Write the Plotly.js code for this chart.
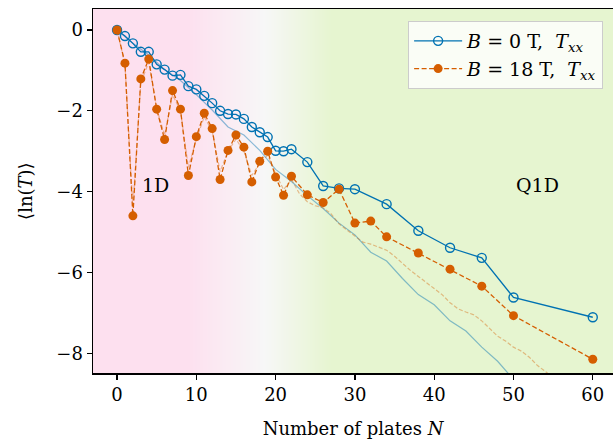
<!DOCTYPE html>
<html>
<head>
<meta charset="utf-8">
<script src="https://cdn.plot.ly/plotly-3.0.1.min.js"></script>
<style>html,body{margin:0;padding:0;background:#fff;}#chart{width:613px;height:443px;}</style>
</head>
<body>
<div id="chart"></div>
<script>
// B = 0 T, T_xx
const nB0 = [0,1,2,3,4,5,6,7,8,9,10,11,12,13,14,15,16,17,18,19,20,21,22,24,26,28,30,34,38,42,46,50,60];
const lnB0 = [0,-0.15,-0.33,-0.54,-0.54,-0.85,-0.98,-1.13,-1.11,-1.39,-1.47,-1.63,-1.81,-2.0,-2.08,-2.09,-2.2,-2.4,-2.53,-2.65,-2.99,-3.0,-2.95,-3.27,-3.86,-3.92,-3.94,-4.31,-4.97,-5.39,-5.64,-6.62,-7.11];
// B = 18 T, T_xx
const nB18 = [0,1,2,3,4,5,6,7,8,9,10,11,12,13,14,15,16,17,18,19,20,21,22,24,26,28,30,32,34,38,42,46,50,60];
const lnB18 = [0,-0.82,-4.6,-1.21,-0.72,-1.96,-2.71,-1.50,-1.96,-3.6,-2.64,-2.06,-2.44,-3.70,-2.98,-2.6,-2.90,-3.76,-3.25,-3.0,-3.64,-4.09,-3.62,-4.08,-4.27,-3.94,-4.78,-4.73,-5.12,-5.52,-5.92,-6.34,-7.07,-8.15];
// faint reference curves
const nRef0 = [0,2,4,6,8,10,12,14,16,18,20,22,24,26,28,30,32,34,36,38,40,42,44,46,48,50];
const lnRef0 = [0,-0.33,-0.62,-0.98,-1.25,-1.6,-1.98,-2.4,-2.6,-2.98,-3.45,-3.75,-4.1,-4.42,-4.78,-5.07,-5.5,-5.72,-6.15,-6.55,-6.8,-7.2,-7.45,-7.85,-8.2,-8.65];
const nRef18 = [0,1,2,3,4,5,6,7,8,9,10,11,12,13,14,15,16,17,18,19,20,21,22,23,24,25,26,27,28,29,30,31,32,33,34,35,36,37,38,39,40,41,42,43,44,45,46,47,48,49,50,51,52,53,54,55];
const lnRef18 = [0,-0.85,-4.4,-1.3,-0.8,-1.95,-2.6,-1.6,-2.0,-3.4,-2.7,-2.15,-2.5,-3.5,-3.0,-2.7,-3.0,-3.6,-3.3,-3.1,-3.55,-3.95,-3.7,-4.05,-4.25,-4.35,-4.4,-4.55,-4.8,-4.95,-5.1,-5.25,-5.3,-5.38,-5.45,-5.6,-5.78,-5.95,-6.1,-6.25,-6.38,-6.55,-6.75,-6.9,-6.98,-7.05,-7.2,-7.4,-7.58,-7.7,-7.85,-7.95,-8.1,-8.3,-8.45,-8.6];
// background gradient stops (1D -> Q1D)
const bgX = [-3, 9, 18.5, 27, 63];
const bgZ = [0, 0, 0.5, 1, 1];

const font = "DejaVu Serif, Liberation Serif, serif";

const traces = [
  {type:'heatmap', x:bgX, y:[-9,1], z:[bgZ,bgZ], zsmooth:'best', showscale:false, hoverinfo:'skip',
   colorscale:[[0,'#fde0ef'],[0.5,'#f7f7f7'],[1,'#e6f5d0']], zmin:0, zmax:1},
  {type:'scatter', mode:'lines', x:nRef0, y:lnRef0, showlegend:false,
   line:{color:'rgba(0,114,178,0.45)', width:1.2}},
  {type:'scatter', mode:'lines', x:nRef18, y:lnRef18, showlegend:false,
   line:{color:'rgba(213,94,0,0.4)', width:1.2, dash:'4px,2px'}},
  {type:'scatter', mode:'lines+markers', x:nB0, y:lnB0, name:'<i>B</i> = 0 T,  <i>T</i><sub><i>xx</i></sub>',
   line:{color:'#0072B2', width:1.3},
   marker:{symbol:'circle-open', size:9, color:'#0072B2', line:{width:1.4, color:'#0072B2'}}},
  {type:'scatter', mode:'lines+markers', x:nB18, y:lnB18, name:'<i>B</i> = 18 T,  <i>T</i><sub><i>xx</i></sub>',
   line:{color:'#D55E00', width:1.3, dash:'5px,2.5px'},
   marker:{symbol:'circle', size:9, color:'#D55E00'}}
];

const layout = {
  width:613, height:443,
  margin:{l:93, r:0, t:9, b:70},
  paper_bgcolor:'#ffffff', plot_bgcolor:'#ffffff',
  font:{family:font, size:18, color:'#000'},
  showlegend:true,
  legend:{x:0.981, y:0.967, xanchor:'right', yanchor:'top', bgcolor:'rgba(255,255,255,0.8)',
          bordercolor:'#cccccc', borderwidth:1, font:{family:font, size:19}, tracegroupgap:0,
          itemwidth:48},
  xaxis:{range:[-3.03,62.55], showgrid:false, zeroline:false, showline:true, linecolor:'#000', linewidth:1.5,
         mirror:true, ticks:'outside', ticklen:5, tickwidth:1.3, tickcolor:'#000',
         tickvals:[0,10,20,30,40,50,60], tickfont:{family:font, size:18},
         title:{text:'Number of plates <i>N</i>', font:{family:font, size:18}, standoff:18}},
  yaxis:{range:[-8.49,0.52], showgrid:false, zeroline:false, showline:true, linecolor:'#000', linewidth:1.5,
         mirror:false, ticks:'outside', ticklen:5, tickwidth:1.3, tickcolor:'#000',
         tickvals:[0,-2,-4,-6,-8], tickfont:{family:font, size:18}},
  annotations:[
    {x:-0.131, y:0.5, xref:'paper', yref:'paper', text:'⟨ln(<i>T</i>)⟩', textangle:-90, showarrow:false,
     xanchor:'center', yanchor:'middle', font:{family:font, size:18}},
    {x:4.8, y:-3.84, xref:'x', yref:'y', text:'1D', showarrow:false, font:{family:font, size:19}},
    {x:53, y:-3.84, xref:'x', yref:'y', text:'Q1D', showarrow:false, font:{family:font, size:19}}
  ]
};

Plotly.newPlot('chart', traces, layout, {displayModeBar:false, staticPlot:true});
</script>
</body>
</html>
